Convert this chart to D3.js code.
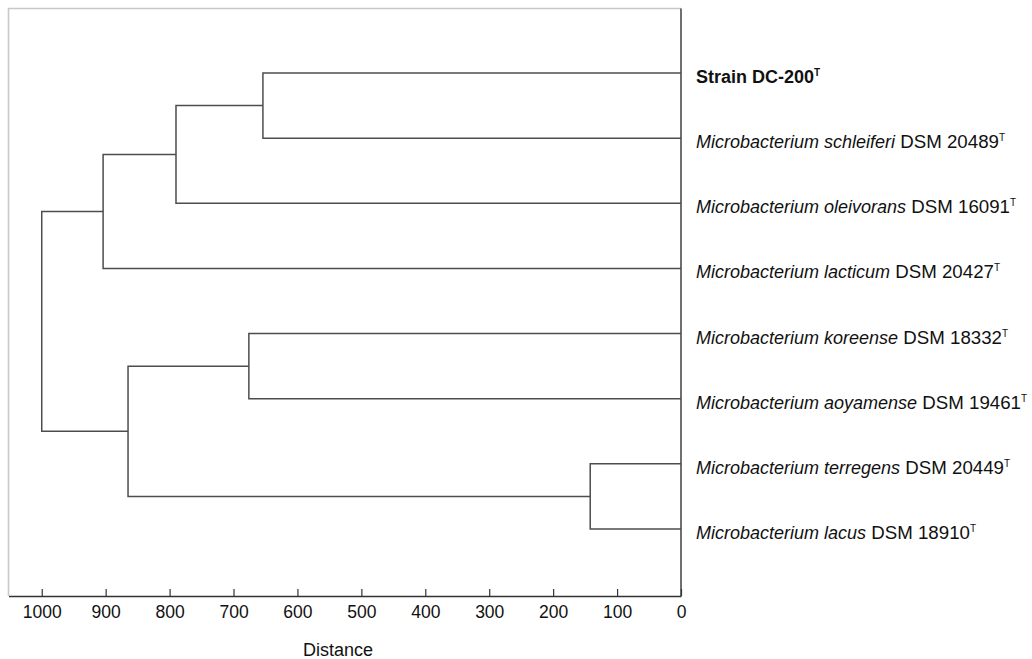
<!DOCTYPE html>
<html>
<head>
<meta charset="utf-8">
<script src="https://cdn.jsdelivr.net/npm/d3@7"></script>
<style>
  body { margin: 0; background: #fff; }
  text { font-family: "Liberation Sans", Arial, sans-serif; fill: #111; }
</style>
</head>
<body>
<div id="container"></div>
<script>
// leaves, top to bottom
const genus = ["", "Microbacterium schleiferi", "Microbacterium oleivorans", "Microbacterium lacticum",
  "Microbacterium koreense", "Microbacterium aoyamense", "Microbacterium terregens", "Microbacterium lacus"]
const strain = ["Strain DC-200", "DSM 20489", "DSM 16091", "DSM 20427",
  "DSM 18332", "DSM 19461", "DSM 20449", "DSM 18910"]

// merges, linkage style: ids 0-7 are leaves, merge i gets id 8 + i
const mergeA = [0, 8, 9, 4, 6, 11, 10]
const mergeB = [1, 2, 3, 5, 7, 12, 13]
const mergeDist = [654, 790, 904, 676, 142, 865, 1000]

const distTicks = [1000, 900, 800, 700, 600, 500, 400, 300, 200, 100, 0]

const width = 1032
const height = 659

const plot = { left: 8.5, right: 681, top: 8.5, bottom: 596 }

const xScale = d3.scaleLinear([1052, 0], [plot.left, plot.right])
const yScale = d3.scalePoint(d3.range(genus.length), [73, 529])

// positions of every node
const nodes = d3.range(genus.length).map(i => ({ d: 0, y: yScale(i) }))
mergeDist.forEach((d, i) => {
  const a = nodes[mergeA[i]], b = nodes[mergeB[i]]
  nodes.push({ d, y: (a.y + b.y) / 2, a, b })
})

const svg = d3.select('#container')
  .append('svg')
  .attr('width', width)
  .attr('height', height)
  .attr('viewBox', [0, 0, width, height])

// frame: light top/left
svg.append('path')
  .attr('d', `M${plot.left},${plot.bottom}V${plot.top}H${plot.right}`)
  .attr('fill', 'none')
  .attr('stroke', '#c8c8c8')
  .attr('stroke-width', 1.6)

svg.append('line')
  .attr('x1', plot.right).attr('x2', plot.right)
  .attr('y1', plot.top).attr('y2', plot.bottom)
  .attr('stroke', '#333')
  .attr('stroke-width', 1.4)

// axis
svg.append('g')
  .attr('transform', `translate(0, ${plot.bottom})`)
  .call(d3.axisBottom(xScale).tickValues(distTicks).tickFormat(d3.format('d'))
    .tickSizeInner(-7).tickSizeOuter(0).tickPadding(10))
  .call(g => g.select('.domain').attr('stroke', '#333').attr('stroke-width', 1.4))
  .call(g => g.selectAll('.tick line').attr('stroke', '#333').attr('stroke-width', 1.2))
  .call(g => g.selectAll('.tick text').attr('font-size', 17.5)
    .attr('font-family', '"Liberation Sans", Arial, sans-serif').attr('fill', '#222'))

svg.append('text')
  .attr('x', 338)
  .attr('y', 656)
  .attr('text-anchor', 'middle')
  .attr('font-size', 18)
  .attr('fill', '#222')
  .text('Distance')

// tree branches
svg.append('g')
  .attr('fill', 'none')
  .attr('stroke', '#4d4d4d')
  .attr('stroke-width', 1.5)
  .selectAll('path')
  .data(nodes.filter(n => n.a))
  .join('path')
  .attr('d', n => `M${xScale(n.a.d)},${n.a.y}H${xScale(n.d)}V${n.b.y}H${xScale(n.b.d)}`)

// leaf labels
const labels = svg.append('g')
  .selectAll('text')
  .data(d3.range(genus.length))
  .join('text')
  .attr('x', 696)
  .attr('y', i => yScale(i) + 10)
  .attr('font-size', 18)

labels.filter(i => genus[i] === '')
  .attr('font-weight', 'bold')
  .append('tspan')
  .text(i => strain[i])

labels.filter(i => genus[i] !== '')
  .call(t => t.append('tspan').attr('font-style', 'italic').text(i => genus[i]))
  .append('tspan')
  .attr('font-size', 18.7)
  .text(i => ' ' + strain[i])

labels.append('tspan')
  .attr('font-size', 10)
  .attr('dy', -7)
  .text('T')
</script>
</body>
</html>
